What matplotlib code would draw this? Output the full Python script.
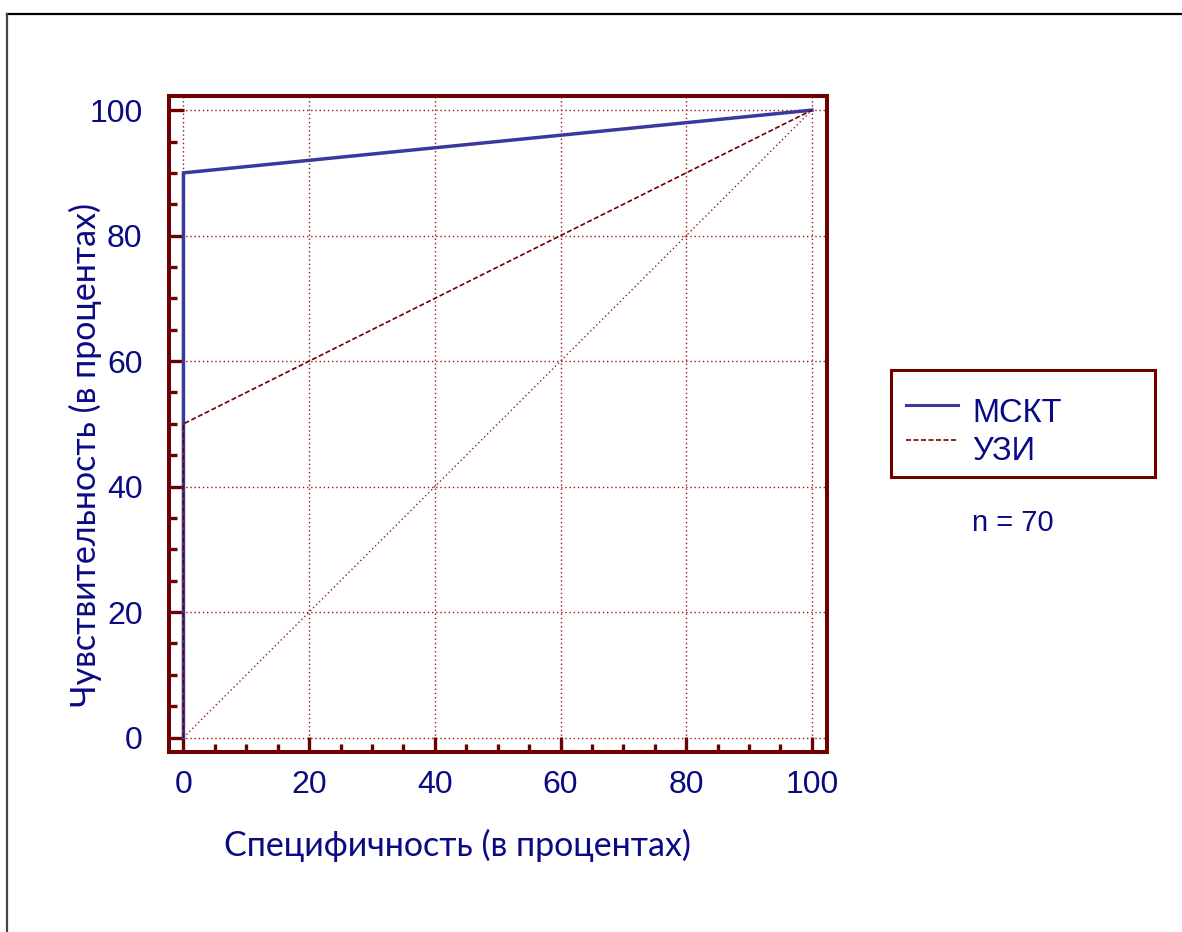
import matplotlib
matplotlib.use("Agg")
import matplotlib.pyplot as plt
from matplotlib.lines import Line2D
from matplotlib.patches import Rectangle
from matplotlib.ticker import MultipleLocator

# Data (ROC curves)
mskt_x = [0, 0, 100]
mskt_y = [0, 90, 100]
uzi_x = [0, 0, 100]
uzi_y = [0, 50, 100]
diag_x = [0, 100]
diag_y = [0, 100]
series_names = ["МСКТ", "УЗИ"]
ticks = [0, 20, 40, 60, 80, 100]
xlabel = "Специфичность (в процентах)"
ylabel = "Чувствительность (в процентах)"
note = "n = 70"

W, H = 1182, 932
fig = plt.figure(figsize=(W / 100, H / 100), dpi=100)
fig.patch.set_facecolor("white")

def fx(p):
    return p / W

def fy(p):
    return 1 - p / H

dark = "#6e0000"
grid_c = "#9a1a1a"
txt = "#0a0a82"
blue = "#3a3a9e"

ax = fig.add_axes([fx(169), fy(752), fx(827) - fx(169), fy(95.7) - fy(752)])
ax.set_xlim(-2.3, 102.4)
ax.set_ylim(-2.3, 102.3)

ax.plot(diag_x, diag_y, color=grid_c, lw=1.0, linestyle=(0, (1, 2)), zorder=2)
ax.plot(mskt_x, mskt_y, color=blue, lw=2.5, zorder=3, solid_joinstyle="miter")
ax.plot(uzi_x, uzi_y, color=dark, lw=1.2, linestyle=(0, (3, 1.5)), zorder=4)

ax.set_xticks(ticks)
ax.set_yticks(ticks)
ax.xaxis.set_minor_locator(MultipleLocator(5))
ax.yaxis.set_minor_locator(MultipleLocator(5))
ax.grid(True, which="major", color=grid_c, lw=1.0, linestyle=(0, (1, 2)))
ax.tick_params(which="major", direction="in", length=11, width=2.4, color=dark,
               labelsize=23, labelcolor=txt)
ax.tick_params(which="minor", direction="in", length=6, width=2.4, color=dark)
ax.tick_params(axis="x", which="major", pad=13)
ax.tick_params(axis="y", which="major", pad=19)
for lab in ax.get_xticklabels() + ax.get_yticklabels():
    lab.set_fontfamily("Liberation Sans")
for s in ax.spines.values():
    s.set_color(dark)
    s.set_linewidth(2.9)

fig.text(fx(457), fy(845), xlabel, ha="center", va="center", fontsize=24.5,
         color=txt, family="Lato")
fig.text(fx(85), fy(455), ylabel, ha="center", va="center", fontsize=24.5,
         color=txt, family="Lato", rotation=90)

# legend box
fig.patches.append(Rectangle((fx(891), fy(477)), fx(1155) - fx(891), fy(370) - fy(477),
                             transform=fig.transFigure, fill=False, edgecolor=dark, lw=2.2))
fig.lines.append(Line2D([fx(906), fx(958)], [fy(405), fy(405)], transform=fig.transFigure,
                        color=blue, lw=2.2))
fig.lines.append(Line2D([fx(906), fx(958)], [fy(440.5), fy(440.5)], transform=fig.transFigure,
                        color=dark, lw=1.2, linestyle=(0, (3, 1.5))))
fig.text(fx(972), fy(414), series_names[0], ha="left", va="center", fontsize=23.5,
         color=txt, family="Liberation Sans")
fig.text(fx(972), fy(452), series_names[1], ha="left", va="center", fontsize=23.5,
         color=txt, family="Liberation Sans")
fig.text(fx(1012.5), fy(523), note, ha="center", va="center", fontsize=21,
         color=txt, family="Liberation Sans")

# outer frame
fig.lines.append(Line2D([fx(7), 1], [fy(14), fy(14)], transform=fig.transFigure,
                        color="black", lw=1.6))
fig.lines.append(Line2D([fx(7), fx(7)], [fy(14), 0], transform=fig.transFigure,
                        color="#444444", lw=1.6))

fig.savefig("out.png", dpi=100, facecolor="white")
